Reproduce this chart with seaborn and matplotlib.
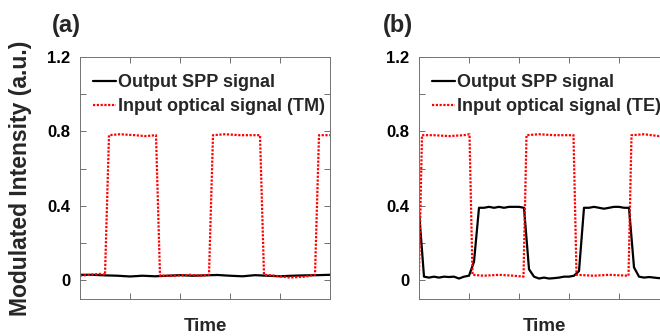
import numpy as np
import pandas as pd
import matplotlib
matplotlib.use("Agg")
import matplotlib.pyplot as plt
import seaborn as sns

# values (time in arbitrary units, 0..5)
tm_out_t = [0.0, 0.25, 0.5, 0.75, 1.0, 1.25, 1.5, 1.75, 2.0, 2.25, 2.5,
            2.75, 3.0, 3.25, 3.5, 3.75, 4.0, 4.25, 4.5, 4.75, 5.0]
tm_out_v = [0.03, 0.03, 0.027, 0.025, 0.021, 0.025, 0.022, 0.025, 0.028, 0.025, 0.027,
            0.029, 0.025, 0.022, 0.028, 0.025, 0.022, 0.025, 0.027, 0.028, 0.03]

tm_in_t = [0.0, 0.2, 0.4, 0.5, 0.58, 0.8, 1.1, 1.3, 1.52, 1.6, 1.9, 2.2, 2.4, 2.58,
           2.66, 2.9, 3.2, 3.6, 3.68, 3.9, 4.2, 4.5, 4.7, 4.78, 5.0]
tm_in_v = [0.025, 0.03, 0.035, 0.03, 0.78, 0.785, 0.78, 0.775, 0.78, 0.025, 0.025, 0.03,
           0.025, 0.03, 0.78, 0.785, 0.78, 0.78, 0.03, 0.025, 0.015, 0.02, 0.03, 0.78, 0.78]

te_out_t = [round(0.1 * i, 1) for i in range(51)]
te_out_v = [0.37, 0.02, 0.015, 0.02, 0.015, 0.02, 0.018, 0.02, 0.01, 0.02,
            0.025, 0.10, 0.39, 0.39, 0.395, 0.39, 0.395, 0.39, 0.395, 0.395,
            0.395, 0.39, 0.06, 0.02, 0.01, 0.015, 0.01, 0.012, 0.015, 0.02,
            0.02, 0.025, 0.05, 0.39, 0.39, 0.395, 0.39, 0.385, 0.39, 0.395,
            0.395, 0.39, 0.39, 0.07, 0.02, 0.015, 0.018, 0.015, 0.012, 0.015, 0.02]

te_in_t = [0.0, 0.06, 0.3, 0.6, 0.9, 1.01, 1.07, 1.3, 1.6, 1.9, 2.09, 2.15, 2.4, 2.7,
           3.09, 3.15, 3.5, 3.8, 4.19, 4.25, 4.5, 4.8, 5.0]
te_in_v = [0.03, 0.78, 0.78, 0.775, 0.78, 0.785, 0.03, 0.025, 0.03, 0.025, 0.02, 0.78,
           0.785, 0.78, 0.78, 0.03, 0.025, 0.03, 0.025, 0.78, 0.785, 0.775, 0.78]

panels = [("(a)", tm_out_t, tm_out_v, tm_in_t, tm_in_v, "Input optical signal (TM)"),
          ("(b)", te_out_t, te_out_v, te_in_t, te_in_v, "Input optical signal (TE)")]

sns.set_theme(style="ticks")
plt.rcParams["font.family"] = ["Liberation Sans", "DejaVu Sans"]
plt.rcParams["font.weight"] = "bold"

fig = plt.figure(figsize=(6.6, 3.36), dpi=100)
lefts = [80 / 660, 419 / 660]
bottom, width, height = 37 / 336, 250 / 660, 242 / 336
tag_x = [52 / 660, 383 / 660]

for i, (tag, ot, ov, it, iv, in_label) in enumerate(panels):
    ax = fig.add_axes([lefts[i], bottom, width, height])
    sns.lineplot(x=ot, y=ov, ax=ax, color="black", lw=1.6, label="Output SPP signal")
    sns.lineplot(x=it, y=iv, ax=ax, color="red", lw=1.6, linestyle=(0, (1, 0.7)),
                 label=in_label)
    ax.set_xlim(0, 5)
    ax.set_ylim(-0.1, 1.2)
    ax.set_xticks(np.arange(0, 6, 1))
    ax.set_xticklabels([])
    ax.set_yticks(np.arange(0, 1.21, 0.2))
    ax.set_yticklabels(["0", "", "0.4", "", "0.8", "", "1.2"], fontsize=12, fontweight="bold")
    ax.tick_params(direction="in", top=True, right=True, length=4, width=0.6,
                   colors="0.35", labelcolor="black", pad=7)
    for s in ax.spines.values():
        s.set_color("0.45")
        s.set_linewidth(0.7)
    ax.set_xlabel("Time", fontsize=13.5, fontweight="bold", labelpad=7)
    if i == 0:
        ax.set_ylabel("Modulated Intensity (a.u.)", fontsize=16.5, fontweight="bold")
        ax.yaxis.set_label_coords(-0.19, 0.5)
    else:
        ax.set_ylabel("")
    leg = ax.legend(loc="upper left", bbox_to_anchor=(0.05, 0.93), frameon=False,
                    prop={"size": 13, "weight": "bold"}, handlelength=1.3,
                    handletextpad=0.1, labelspacing=0.4, borderpad=0, borderaxespad=0)
    fig.text(tag_x[i], 1 - 14 / 336, tag, fontsize=17, fontweight="bold", va="top")

fig.savefig("out.png", dpi=100)
